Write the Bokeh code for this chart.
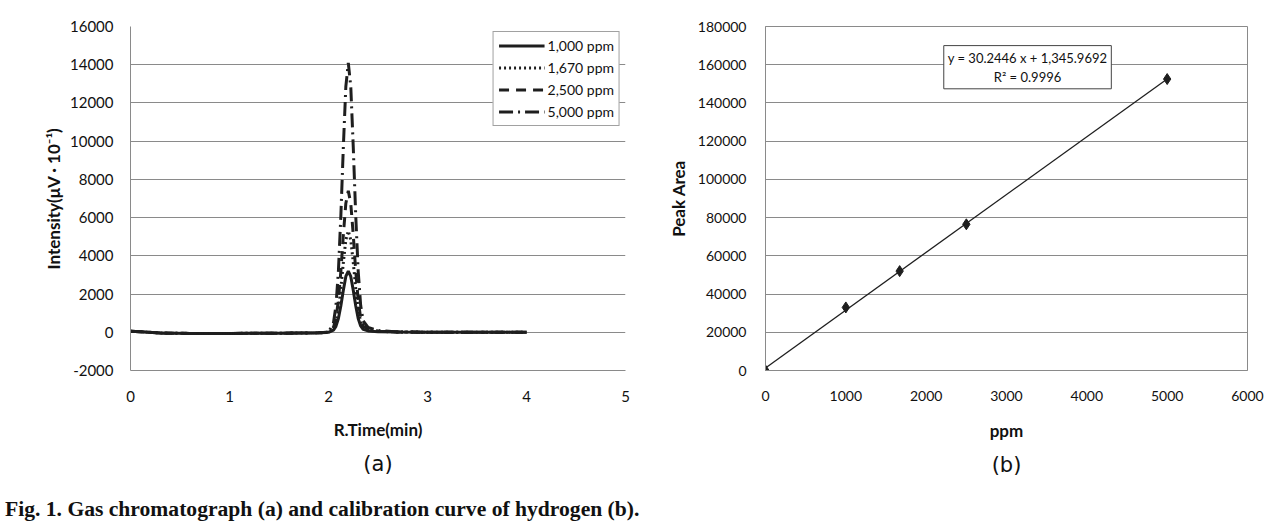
from bokeh.plotting import figure
from bokeh.layouts import column, row
from bokeh.models import FixedTicker, Legend, LegendItem, Label, Div, Title, NumeralTickFormatter
from bokeh.embed import file_html
from bokeh.resources import INLINE

# ---------------- data ----------------
rt_min = [0.0, 0.1, 0.3, 0.6, 1.0, 1.5, 1.9, 2.0, 2.05, 2.075, 2.1, 2.125, 2.15, 2.175,
          2.2, 2.225, 2.25, 2.275, 2.3, 2.325, 2.35, 2.4, 2.5, 2.7, 3.0, 3.5, 4.0]
i_1000 = [50, 30, -40, -60, -60, -50, -30, 0, 110, 310, 720, 1390, 2200, 2920, 3200,
          2920, 2200, 1390, 720, 330, 150, 70, 30, 15, 5, 0, 0]
i_1670 = [50, 30, -40, -60, -60, -50, -30, 0, 185, 520, 1200, 2300, 3650, 4830, 5300,
          4830, 3650, 2300, 1200, 540, 250, 110, 50, 15, 5, 0, 0]
i_2500 = [50, 30, -40, -60, -60, -50, -30, 0, 260, 720, 1670, 3210, 5100, 6740, 7400,
          6740, 5100, 3210, 1670, 750, 330, 150, 60, 15, 5, 0, 0]
i_5000 = [50, 30, -40, -60, -60, -50, -30, 0, 490, 1380, 3190, 6120, 9710, 12850, 14100,
          12850, 9710, 6120, 3190, 1400, 600, 250, 90, 20, 5, 0, 0]
series_labels = ["1,000 ppm", "1,670 ppm", "2,500 ppm", "5,000 ppm"]

x_ticks_a = [0, 1, 2, 3, 4, 5]
y_ticks_a = [-2000, 0, 2000, 4000, 6000, 8000, 10000, 12000, 14000, 16000]

conc_ppm = [0, 1000, 1670, 2500, 5000]
peak_area = [0, 33000, 52000, 76500, 152500]
fit_slope = 30.2446
fit_intercept = 1345.9692
fit_r2 = 0.9996
x_ticks_b = [0, 1000, 2000, 3000, 4000, 5000, 6000]
y_ticks_b = [0, 20000, 40000, 60000, 80000, 100000, 120000, 140000, 160000, 180000]

# ---------------- styles ----------------
FONT = "Lato"
GRID = "#8a8a8a"
INK = "#1e1e1e"


def style(p, xt, yt, tick_size, title_size):
    p.xaxis.ticker = FixedTicker(ticks=xt)
    p.yaxis.ticker = FixedTicker(ticks=yt)
    p.yaxis.formatter = NumeralTickFormatter(format="0")
    for ax in (p.xaxis[0], p.yaxis[0]):
        ax.major_tick_line_color = None
        ax.minor_tick_line_color = None
        ax.axis_line_color = GRID
        ax.major_label_text_font = FONT
        ax.major_label_text_font_size = tick_size
        ax.major_label_text_color = "#111111"
        ax.axis_label_text_font = FONT
        ax.axis_label_text_font_size = title_size
        ax.axis_label_text_font_style = "bold"
        ax.axis_label_text_color = "#111111"
    p.xaxis.major_label_standoff = 14
    p.yaxis.major_label_standoff = 11
    p.xaxis.axis_label_standoff = 15
    p.yaxis.axis_label_standoff = 4
    p.xgrid.grid_line_color = None
    p.ygrid.grid_line_color = GRID
    p.ygrid.grid_line_width = 1
    p.background_fill_color = "white"
    p.border_fill_color = "white"


# ---------------- (a) chromatogram ----------------
pa = figure(frame_width=495, frame_height=344, x_range=(0, 5), y_range=(-2000, 16000),
            output_backend="svg", toolbar_location=None,
            min_border_left=130, min_border_right=15, min_border_top=25,
            min_border_bottom=110)
style(pa, x_ticks_a, y_ticks_a, "15px", "17px")
pa.outline_line_color = None
pa.xaxis.axis_label = "R.Time(min)"
pa.yaxis.axis_label = "Intensity(μV · 10⁻¹)"
pa.xaxis.axis_label_standoff = 14
pa.yaxis.axis_label_standoff = 3

r1 = pa.line(rt_min, i_1000, line_color=INK, line_width=3)
r2 = pa.line(rt_min, i_1670, line_color=INK, line_width=3, line_dash="2 3")
r3 = pa.line(rt_min, i_2500, line_color=INK, line_width=3, line_dash="10 7")
r4 = pa.line(rt_min, i_5000, line_color=INK, line_width=3, line_dash="14 5 2 5")

leg = Legend(items=[LegendItem(label=series_labels[0], renderers=[r1]),
                    LegendItem(label=series_labels[1], renderers=[r2]),
                    LegendItem(label=series_labels[2], renderers=[r3]),
                    LegendItem(label=series_labels[3], renderers=[r4])],
             location="top_right")
leg.margin = 5
leg.padding = 5
leg.spacing = 5
leg.label_height = 17
leg.glyph_height = 17
leg.glyph_width = 46
leg.label_standoff = 3
leg.label_text_font = FONT
leg.label_text_font_size = "14px"
leg.label_text_color = "#111111"
leg.border_line_color = "#444444"
leg.border_line_width = 1
leg.background_fill_color = "white"
leg.background_fill_alpha = 1
pa.add_layout(leg)

ta = Title(text="(a)", text_font="DejaVu Sans", text_font_size="21px",
           text_font_style="normal", align="center", text_color="#111111")
ta.standoff = 14
pa.add_layout(ta, "below")

# ---------------- (b) calibration curve ----------------
pb = figure(frame_width=482, frame_height=344, x_range=(0, 6000), y_range=(0, 180000),
            output_backend="svg", toolbar_location=None,
            min_border_left=125, min_border_right=20, min_border_top=26,
            min_border_bottom=109)
style(pb, x_ticks_b, y_ticks_b, "14px", "17px")
pb.outline_line_color = GRID
pb.xaxis.axis_label = "ppm"
pb.yaxis.axis_label = "Peak Area"
pb.yaxis.axis_label_standoff = 6
pb.yaxis.major_label_standoff = 13
pb.xaxis.axis_label_standoff = 16

fit_x = [conc_ppm[0], conc_ppm[-1]]
fit_y = [fit_slope * v + fit_intercept for v in fit_x]
pb.line(fit_x, fit_y, line_color=INK, line_width=1.3)
pb.scatter(conc_ppm, peak_area, marker="diamond", size=11, fill_color=INK,
           line_color=INK)

eq = Label(x=3262, y=158700,
           text=f"y = {fit_slope} x + 1,345.9692\nR² = {fit_r2}",
           text_align="center", text_baseline="middle",
           text_font=FONT, text_font_size="13px", text_color="#111111",
           border_line_color="#444444", border_line_width=1,
           background_fill_color="white", background_fill_alpha=1,
           padding=4)
pb.add_layout(eq)

tb = Title(text="(b)", text_font="DejaVu Sans", text_font_size="21px",
           text_font_style="normal", align="center", text_color="#111111")
tb.standoff = 14
pb.add_layout(tb, "below")

caption = Div(text="Fig. 1. Gas chromatograph (a) and calibration curve of hydrogen (b).",
              width=900, height=30,
              styles={"font-family": "Liberation Serif", "font-weight": "bold",
                      "font-size": "21.6px", "color": "#111111",
                      "margin-top": "11px", "white-space": "nowrap"})

layout = column(row(pa, pb), caption)
open("out.html", "w").write(file_html(layout, INLINE))
